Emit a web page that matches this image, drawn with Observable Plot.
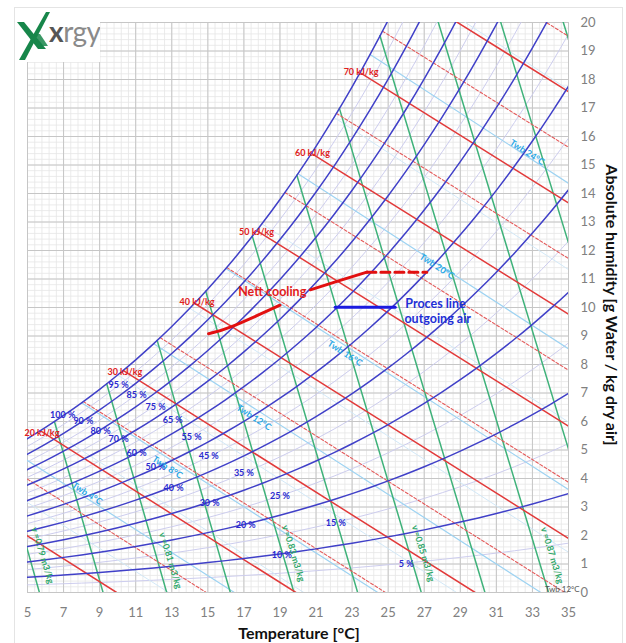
<!DOCTYPE html>
<html><head><meta charset="utf-8">
<script src="https://cdn.jsdelivr.net/npm/d3@7"></script>
<script src="https://cdn.jsdelivr.net/npm/@observablehq/plot@0.6"></script>
<style>
body{margin:0;background:#fff;font-family:Lato,"Open Sans",sans-serif;}
#wrap{position:relative;width:626px;height:643px;overflow:hidden;background:#fff}
#frame{position:absolute;left:14px;top:7px;width:607px;height:640px;border:1px solid #e4e4e4;pointer-events:none}
#logo{position:absolute;left:16px;top:9px;width:84px;height:53px;background:#fff}
#xlab{position:absolute;left:0;width:598px;top:623px;text-align:center;font:bold 16px Lato,sans-serif;color:#111}
#ylab{position:absolute;left:612px;top:305px;transform:translate(-50%,-50%) rotate(90deg);white-space:nowrap;font:bold 16px Lato,sans-serif;color:#111}
</style></head><body>
<div id="wrap">
<div id="chart"></div>
<div id="logo">
<svg width="84" height="53" viewBox="0 0 84 53">
<path d="M1 13 L8 13 L30 40 L22 40 Z" fill="#17864a"/>
<path d="M30 3 L34 3 L9 51 L3 51 Z" fill="#17864a"/>
<path d="M18 25 L24 25 L32 37 L26 37 Z" fill="#17864a" opacity="0.85"/>
<text x="33" y="33" font-family="Lato,sans-serif" font-size="28" fill="#8a8a8a" letter-spacing="-0.5"><tspan fill="#555" font-weight="bold">x</tspan>rgy</text>
</svg>
</div>
<div id="xlab">Temperature [°C]</div>
<div id="ylab">Absolute humidity [g Water / kg dry air]</div>
<div id="frame"></div>
</div>
<script>
// ---------- data ----------
const xTicks = [5,7,9,11,13,15,17,19,21,23,25,27,29,31,33,35];
const yTicks = [0,1,2,3,4,5,6,7,8,9,10,11,12,13,14,15,16,17,18,19,20];

// saturation vapour pressure table (kPa) per °C
const satTemp = [0,1,2,3,4,5,6,7,8,9,10,11,12,13,14,15,16,17,18,19,20,21,22,23,24,25,26,27,28,29,30,31,32,33,34,35,36];
const satPressure = [0.6112,0.6571,0.7060,0.7581,0.8135,0.8725,0.9350,1.0020,1.0728,1.1481,1.2280,1.3127,1.4026,1.4979,1.5987,1.7055,1.8185,1.9380,2.0644,2.1978,2.3388,2.4877,2.6447,2.8104,2.9850,3.1690,3.3629,3.5670,3.7818,4.0078,4.2455,4.4953,4.7578,5.0335,5.3229,5.6267,5.9453];

const rhLevels = [10,20,30,40,50,60,70,80,90,100];
const rhFaintLevels = [5,15,25,35,45,55,65,75,85,95];
const enthalpySolid = [10,20,30,40,50,60,70,80];
const enthalpyDashed = [15,25,35,45,55,65,75,85];
const volumeLevels = [0.79,0.80,0.81,0.82,0.83,0.84,0.85,0.86,0.87,0.88,0.89,0.90];
const wetBulbMain = [4,8,12,16,20,24,28];
const wetBulbMinor = [2,6,10,14,18,22,26];

const rhLabelRH = [100,90,80,70,60,50,40,30,20,10,5,95,85,75,65,55,45,35,25,15];
const rhLabelT  = [6.95,8.1,9.05,10.05,11.05,12.1,13.1,15.1,17.1,19.1,26.0,10.05,11.05,12.1,13.05,14.1,15.05,17.0,19.0,22.1];
const rhLabelX  = [6.21,6.0,5.68,5.37,4.88,4.39,3.68,3.12,2.35,1.30,0.98,7.26,6.91,6.49,6.04,5.44,4.77,4.18,3.37,2.42];

const hLabelH = [20,30,40,50,60,70];
const hLabelT = [5.8,10.4,14.4,17.7,20.8,23.5];
const hLabelX = [5.61,7.72,10.18,12.63,15.4,18.25];

const vLabelV = ["0.79","0.81","0.83","0.85","0.87"];
const vLabelT = [5.83,12.92,19.74,26.94,34.09];
const vLabelX = [1.30,1.12,1.37,1.37,1.30];

const twbLabelT0 = [4,8,12,16,20,24];
const twbLabelT  = [8.3,12.75,17.55,22.6,27.7,32.7];
const twbLabelX  = [3.47,4.39,6.14,8.39,11.44,15.44];

const coolingT1 = [15.04,16.4,19.0];
const coolingX1 = [9.08,9.35,10.08];
const coolingT2 = [20.68,22.34,23.82];
const coolingX2 = [10.62,10.95,11.24];
const coolingDashT = [23.82,27.14];
const coolingDashX = [11.24,11.24];
const processT = [22.06,25.39];
const processX = [10.01,10.01];

const coolingNote = [{text:"Nett cooling", T:18.57, x:10.53}];
const processNotes = [
  {text:"Proces line", T:25.95, x:10.14},
  {text:"outgoing air", T:25.9, x:9.58}
];
const cornerNote = [{text:"Twb 12°C", T:35.62, x:0.1}];

// ---------- psychrometrics ----------
const P = 101.325;
function pws(T){ const i = Math.max(0, Math.min(35, Math.floor(T))); const f = T - satTemp[i];
  return satPressure[i] + (satPressure[i+1]-satPressure[i])*f; }
const hum = pv => 622*pv/(P-pv);
const xsat = T => hum(pws(T));
const enth = (T,x) => 1.006*T + x*(2.501+0.00186*T);
const vol = (T,x) => 0.2871*(T+273.15)*(1+0.001608*x)/P;
function solve(f,a,b){ let fa=f(a); for(let i=0;i<60;i++){const m=(a+b)/2, fm=f(m); if((fm>0)===(fa>0)){a=m;fa=fm;} else b=m;} return (a+b)/2; }

const rhCurves = (levels) => levels.flatMap(rh => satTemp.filter(t=>t>=3).map(t => ({rh, T:t, x:hum(rh/100*satPressure[t])})));
const rhData = rhCurves(rhLevels);
const rhFaintData = rhCurves(rhFaintLevels);

const enthLine = H => { const Ts = solve(T=>enth(T,xsat(T))-H,0,36);
  return [{H,T:Ts,x:xsat(Ts)},{H,T:H/1.006,x:0}]; };
const hSolidData = enthalpySolid.flatMap(enthLine);
const hDashData = enthalpyDashed.flatMap(enthLine);

const volLine = V => { const Ts = solve(T=>vol(T,xsat(T))-V,0,36);
  const T0 = V*P/0.2871 - 273.15; return [{V,T:Ts,x:xsat(Ts)},{V,T:T0,x:0}]; };
const vData = volumeLevels.flatMap(volLine);

const twbLine = tw => { const xs = xsat(tw)/1000; const T0 = tw + (2501-2.326*tw)*xs/1.006;
  return [{tw,T:tw,x:xs*1000},{tw,T:T0,x:0}]; };
const twMainData = wetBulbMain.flatMap(twbLine);
const twMinorData = wetBulbMinor.flatMap(twbLine);

const rhLabels = rhLabelRH.map((r,i)=>({t:r+" %", T:rhLabelT[i], x:rhLabelX[i]}));
const hLabels = hLabelH.map((h,i)=>({t:h+" kJ/kg", T:hLabelT[i], x:hLabelX[i]}));
const vLabels = vLabelV.map((v,i)=>({t:"v ="+v+" m3/kg", T:vLabelT[i], x:vLabelX[i]}));
const twLabels = twbLabelT0.map((w,i)=>({t:"Twb "+w+"°C", T:twbLabelT[i], x:twbLabelX[i]}));
const pts = (Ts,Xs) => Ts.map((t,i)=>({T:t,x:Xs[i]}));

const minorX = d3.range(5,35.001,0.4);
const minorY = d3.range(0,20.001,0.2);

const chart = Plot.plot({
  width:626, height:643,
  marginLeft:27, marginRight:58, marginTop:22, marginBottom:51,
  x:{domain:[5,35], label:null},
  y:{domain:[0,20], label:null},
  style:{fontFamily:"Lato, sans-serif", background:"transparent", overflow:"visible"},
  marks:[
    Plot.gridX(minorX,{stroke:"#e6e6e6", strokeOpacity:1, strokeWidth:0.8}),
    Plot.gridY(minorY,{stroke:"#e6e6e6", strokeOpacity:1, strokeWidth:0.8}),
    Plot.gridX(xTicks,{stroke:"#c6c6c6", strokeOpacity:1, strokeWidth:1}),
    Plot.gridY(yTicks,{stroke:"#c6c6c6", strokeOpacity:1, strokeWidth:1}),
    Plot.line(rhFaintData,{x:"T", y:"x", z:"rh", curve:"natural", stroke:"#cdcdee", strokeWidth:1, clip:true}),
    Plot.line(twMinorData,{x:"T", y:"x", z:"tw", stroke:"#d2e8f7", strokeWidth:1, clip:true}),
    Plot.line(twMainData,{x:"T", y:"x", z:"tw", stroke:"#9dd3f2", strokeWidth:1.2, clip:true}),
    Plot.line(vData,{x:"T", y:"x", z:"V", stroke:"#3fb27a", strokeWidth:1.5, clip:true}),
    Plot.line(hDashData,{x:"T", y:"x", z:"H", stroke:"#e45a5a", strokeWidth:1.1, strokeDasharray:"3,2", clip:true}),
    Plot.line(hSolidData,{x:"T", y:"x", z:"H", stroke:"#e23a3a", strokeWidth:1.5, clip:true}),
    Plot.line(rhData,{x:"T", y:"x", z:"rh", curve:"natural", stroke:"#4040c8", strokeWidth:1.5, clip:true}),
    Plot.text(rhLabels,{x:"T", y:"x", text:"t", fill:"#2a2ad0", fontSize:9, fontWeight:"bold"}),
    Plot.text(hLabels,{x:"T", y:"x", text:"t", fill:"#e02020", fontSize:9, fontWeight:"bold"}),
    Plot.text(vLabels,{x:"T", y:"x", text:"t", fill:"#2fa86a", fontSize:9, fontWeight:"bold", rotate:73}),
    Plot.text(twLabels,{x:"T", y:"x", text:"t", fill:"#2aa8e6", fontSize:9, fontWeight:"bold", rotate:33}),
    Plot.line(pts(coolingT1,coolingX1),{x:"T", y:"x", curve:"natural", stroke:"#e21010", strokeWidth:3}),
    Plot.line(pts(coolingT2,coolingX2),{x:"T", y:"x", curve:"natural", stroke:"#e21010", strokeWidth:3}),
    Plot.line(pts(coolingDashT,coolingDashX),{x:"T", y:"x", stroke:"#e21010", strokeWidth:3, strokeDasharray:"9,5"}),
    Plot.line(pts(processT,processX),{x:"T", y:"x", stroke:"#1a1ae0", strokeWidth:3}),
    Plot.text(coolingNote,{x:"T", y:"x", text:"text", fill:"#e21b1b", textAnchor:"middle", fontSize:12.5, fontWeight:"bold"}),
    Plot.text(processNotes,{x:"T", y:"x", text:"text", fill:"#1f2fd6", textAnchor:"start", fontSize:12.5, fontWeight:"bold"}),
    Plot.text(cornerNote,{x:"T", y:"x", text:"text", fill:"#555", fontSize:8, textAnchor:"end"}),
    Plot.axisX(xTicks,{tickSize:0, tickPadding:15, fontSize:13, color:"#808080", label:null}),
    Plot.axisY(yTicks,{anchor:"right", tickSize:0, tickPadding:12, fontSize:13, color:"#808080", label:null})
  ]
});
document.getElementById("chart").appendChild(chart);
</script>
</body></html>
